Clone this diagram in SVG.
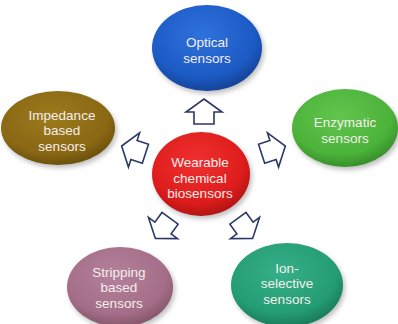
<svg xmlns="http://www.w3.org/2000/svg" width="398" height="324" viewBox="0 0 398 324">
<defs>
<filter id="sh" x="-20%" y="-20%" width="140%" height="140%"><feGaussianBlur stdDeviation="2.5"/></filter>
<radialGradient id="gBlue" cx="45%" cy="35%" r="65%"><stop offset="0" stop-color="#2f72dc"/><stop offset="0.75" stop-color="#1c5ac4"/><stop offset="1" stop-color="#15449a"/></radialGradient>
<radialGradient id="gGreen" cx="45%" cy="35%" r="65%"><stop offset="0" stop-color="#62c64c"/><stop offset="0.75" stop-color="#4bb23a"/><stop offset="1" stop-color="#38902a"/></radialGradient>
<radialGradient id="gOlive" cx="45%" cy="35%" r="65%"><stop offset="0" stop-color="#9c7a1c"/><stop offset="0.75" stop-color="#8a6814"/><stop offset="1" stop-color="#6c500c"/></radialGradient>
<radialGradient id="gRed" cx="45%" cy="35%" r="65%"><stop offset="0" stop-color="#f03030"/><stop offset="0.75" stop-color="#de1c1c"/><stop offset="1" stop-color="#b41414"/></radialGradient>
<radialGradient id="gMauve" cx="45%" cy="35%" r="65%"><stop offset="0" stop-color="#b4809a"/><stop offset="0.75" stop-color="#a46e88"/><stop offset="1" stop-color="#86566c"/></radialGradient>
<radialGradient id="gTeal" cx="45%" cy="35%" r="65%"><stop offset="0" stop-color="#36b088"/><stop offset="0.75" stop-color="#249c74"/><stop offset="1" stop-color="#1a7c5a"/></radialGradient>
<path id="arr" d="M0,-13 L18,0 L10,0 L10,12 L-10,12 L-10,0 L-18,0 Z"/>
</defs>
<style>
.sh{fill:#000;opacity:0.25;filter:url(#sh)}
.t{font-family:"Liberation Sans",Arial,sans-serif;font-size:13.5px;fill:#f4eeee;text-anchor:middle}
.a{fill:#fff;stroke:#2c3868;stroke-width:1.6;stroke-linejoin:miter}
</style>
<g id="connectors">
<use href="#arr" class="a" transform="translate(204,112)"/>
<use href="#arr" class="a" transform="translate(134,150) rotate(-72)"/>
<use href="#arr" class="a" transform="translate(273,150) rotate(72)"/>
<use href="#arr" class="a" transform="translate(163,228) rotate(-144)"/>
<use href="#arr" class="a" transform="translate(245,228) rotate(144)"/>
</g>
<g id="optical">
<ellipse class="sh" cx="209" cy="51" rx="55" ry="43"/>
<ellipse cx="207" cy="48" rx="55" ry="43" fill="url(#gBlue)"/>
<text class="t" x="207" y="47">Optical</text>
<text class="t" x="207" y="62.5">sensors</text>
</g>
<g id="enzymatic">
<ellipse class="sh" cx="347" cy="131" rx="53" ry="39"/>
<ellipse cx="345" cy="128" rx="53" ry="39" fill="url(#gGreen)"/>
<text class="t" x="345" y="127">Enzymatic</text>
<text class="t" x="345" y="142.5">sensors</text>
</g>
<g id="impedance">
<ellipse class="sh" cx="60" cy="131" rx="57" ry="37"/>
<ellipse cx="58" cy="128" rx="57" ry="37" fill="url(#gOlive)"/>
<text class="t" x="62" y="119.5">Impedance</text>
<text class="t" x="62" y="135">based</text>
<text class="t" x="62" y="150.5">sensors</text>
</g>
<g id="center">
<ellipse class="sh" cx="203" cy="177" rx="49" ry="42"/>
<ellipse cx="201" cy="174" rx="49" ry="42" fill="url(#gRed)"/>
<text class="t" x="200" y="167">Wearable</text>
<text class="t" x="200" y="182.5">chemical</text>
<text class="t" x="200" y="198">biosensors</text>
</g>
<g id="stripping">
<ellipse class="sh" cx="122" cy="290" rx="53" ry="40"/>
<ellipse cx="120" cy="287" rx="53" ry="40" fill="url(#gMauve)"/>
<text class="t" x="119" y="276.5">Stripping</text>
<text class="t" x="119" y="292">based</text>
<text class="t" x="119" y="307.5">sensors</text>
</g>
<g id="ionselective">
<ellipse class="sh" cx="289" cy="288" rx="56" ry="42"/>
<ellipse cx="287" cy="285" rx="56" ry="42" fill="url(#gTeal)"/>
<text class="t" x="287" y="272.5">Ion-</text>
<text class="t" x="287" y="288">selective</text>
<text class="t" x="287" y="303.5">sensors</text>
</g>
</svg>
